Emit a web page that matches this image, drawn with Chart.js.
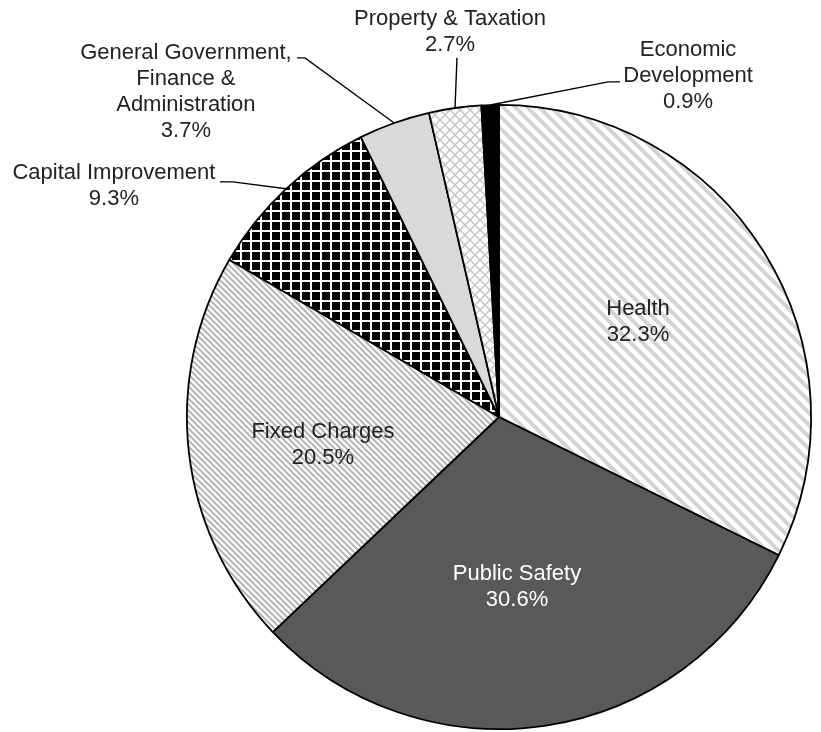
<!DOCTYPE html>
<html>
<head>
<meta charset="utf-8">
<script src="https://cdn.jsdelivr.net/npm/chart.js@4"></script>
<style>
  html, body { margin: 0; padding: 0; background: #fff; }
  canvas { display: block; }
</style>
</head>
<body>
<canvas id="budgetPie" width="821" height="732"></canvas>
<script>
const categories = ['Health', 'Public Safety', 'Fixed Charges', 'Capital Improvement',
    'General Government, Finance & Administration', 'Property & Taxation', 'Economic Development'];
const shares = [32.3, 30.6, 20.5, 9.3, 3.7, 2.7, 0.9];
const labelLines = [
    ['Health'],
    ['Public Safety'],
    ['Fixed Charges'],
    ['Capital Improvement'],
    ['General Government,', 'Finance &', 'Administration'],
    ['Property & Taxation'],
    ['Economic', 'Development']
];

// label spots, in pixels from the pie centre for a 312px radius
// leader: [elbow x, elbow y, end x, end y] where the line leaves the text
const labelSpots = [
    { x: 139, y: -108, color: '#222' },
    { x: 18, y: 157, color: '#fff' },
    { x: -176, y: 15, color: '#222' },
    { x: -385, y: -244, color: '#222', leader: [-266, -235, -279, -235] },
    { x: -313, y: -364, color: '#222', leader: [-194, -359, -202, -359] },
    { x: -49, y: -398, color: '#222', leader: [-42, -359, -42, -359] },
    { x: 189, y: -367, color: '#222', leader: [109, -335, 121, -335] }
];

function makeTile(size, draw) {
    const c = document.createElement('canvas');
    c.width = size;
    c.height = size;
    const g = c.getContext('2d');
    draw(g, size);
    return g.createPattern(c, 'repeat');
}

function backslashStripes(color, width) {
    return (g, s) => {
        g.fillStyle = '#fff';
        g.fillRect(0, 0, s, s);
        g.strokeStyle = color;
        g.lineWidth = width;
        for (const x0 of [-s, 0, s]) {
            g.beginPath();
            g.moveTo(x0 - 2, -2);
            g.lineTo(x0 + s + 2, s + 2);
            g.stroke();
        }
    };
}

const healthFill = makeTile(12, backslashStripes('#d3d3d3', 4));
const fixedFill = makeTile(6, backslashStripes('#b5b5b5', 2));
const capitalFill = makeTile(10, (g, s) => {
    g.fillStyle = '#000';
    g.fillRect(0, 0, s, s);
    g.fillStyle = '#fff';
    g.fillRect(0, 0, 2, s);
    g.fillRect(0, 0, s, 2);
});
const propertyFill = makeTile(10, (g, s) => {
    g.fillStyle = '#fff';
    g.fillRect(0, 0, s, s);
    g.strokeStyle = '#c4c4c4';
    g.lineWidth = 1.5;
    for (const x0 of [-s, 0, s]) {
        g.beginPath();
        g.moveTo(x0 - 2, -2);
        g.lineTo(x0 + s + 2, s + 2);
        g.moveTo(x0 - 2, s + 2);
        g.lineTo(x0 + s + 2, -2);
        g.stroke();
    }
});

const sliceFills = [healthFill, '#595959', fixedFill, capitalFill, '#d9d9d9', propertyFill, '#000'];

const pieLabels = {
    id: 'pieLabels',
    afterDatasetsDraw(chart) {
        const ctx = chart.ctx;
        const arcs = chart.getDatasetMeta(0).data;
        ctx.save();
        ctx.font = '22px "Liberation Sans", Arial, sans-serif';
        ctx.textAlign = 'center';
        ctx.textBaseline = 'middle';
        const lineH = 26;
        arcs.forEach((arc, i) => {
            const { x: cx, y: cy, startAngle, endAngle, outerRadius } = arc.getProps(['x', 'y', 'startAngle', 'endAngle', 'outerRadius']);
            const k = outerRadius / 312;
            const spot = labelSpots[i];
            const lines = labelLines[i].concat(shares[i].toFixed(1) + '%');

            if (spot.leader) {
                const mid = (startAngle + endAngle) / 2;
                const [ex, ey, tx, ty] = spot.leader;
                ctx.strokeStyle = '#000';
                ctx.lineWidth = 1.4;
                ctx.beginPath();
                ctx.moveTo(cx + Math.cos(mid) * outerRadius, cy + Math.sin(mid) * outerRadius);
                ctx.lineTo(cx + ex * k, cy + ey * k);
                ctx.lineTo(cx + tx * k, cy + ty * k);
                ctx.stroke();
            }

            ctx.fillStyle = spot.color;
            lines.forEach((t, j) => {
                ctx.fillText(t, cx + spot.x * k, cy + spot.y * k + j * lineH);
            });
        });
        ctx.restore();
    }
};

new Chart(document.getElementById('budgetPie'), {
    type: 'pie',
    data: {
        labels: categories,
        datasets: [{
            data: shares,
            backgroundColor: sliceFills,
            borderColor: '#000',
            borderWidth: 1.8
        }]
    },
    options: {
        responsive: false,
        animation: false,
        layout: { padding: { left: 186, right: 9, top: 104, bottom: 2 } },
        plugins: {
            legend: { display: false },
            tooltip: { enabled: false }
        }
    },
    plugins: [pieLabels]
});
</script>
</body>
</html>
